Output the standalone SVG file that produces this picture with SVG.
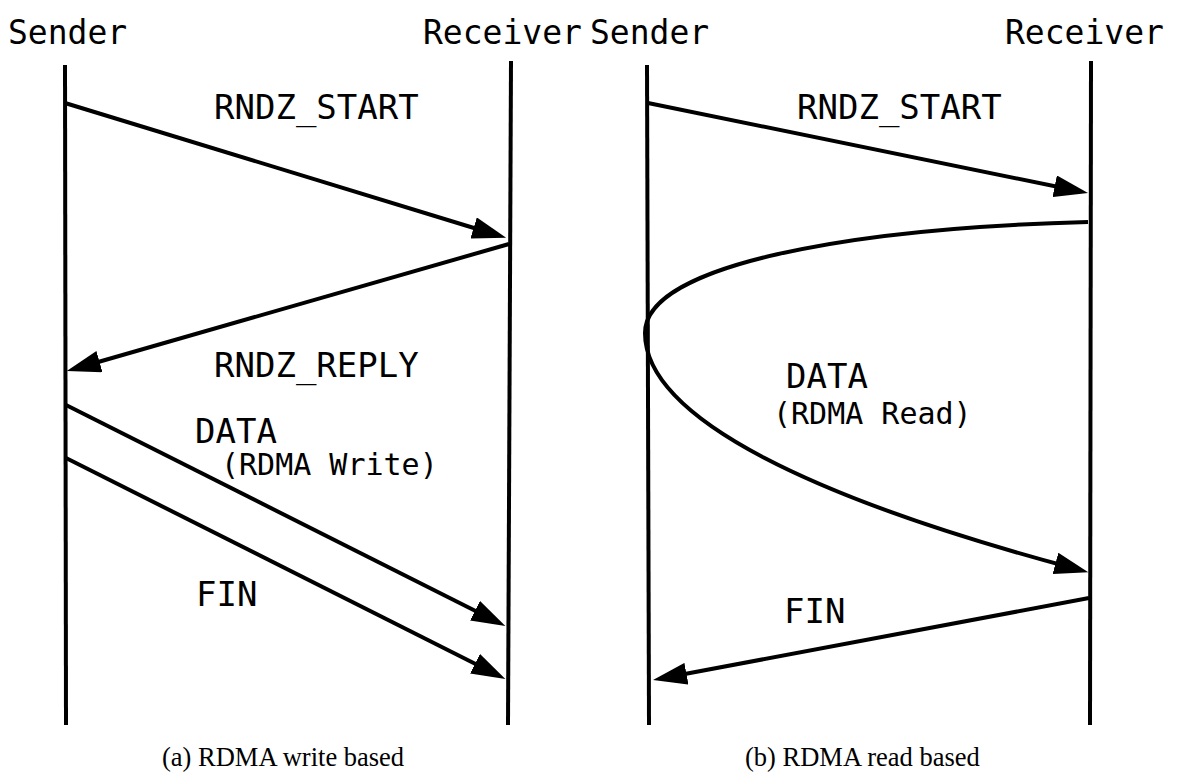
<svg xmlns="http://www.w3.org/2000/svg" width="1184" height="780" viewBox="0 0 1184 780">
  <style>
    .mono { font-family: "DejaVu Sans Mono", "Liberation Mono", monospace; fill: #000; }
    .head { font-size: 33px; }
    .lbl { font-size: 34px; }
    .sub { font-size: 30px; }
    .cap { font-family: "Liberation Serif", "DejaVu Serif", serif; font-size: 26.5px; fill: #000; }
    .life { stroke: #000; stroke-width: 4; fill: none; }
    .msg { stroke: #000; stroke-width: 4; fill: none; marker-end: url(#head); }
  </style>
  <defs>
    <marker id="head" viewBox="0 0 34 22" markerWidth="34" markerHeight="22" markerUnits="userSpaceOnUse" refX="14" refY="11" orient="auto">
      <path d="M0,0 L34,11 L0,22 z" fill="#000"/>
    </marker>
  </defs>
  <rect width="1184" height="780" fill="#fff"/>

  <!-- (a) write-based rendezvous -->
  <g id="a-sender">
    <text class="mono head" x="8" y="44">Sender</text>
    <line class="life" x1="65" y1="65" x2="66" y2="725"/>
  </g>
  <g id="a-receiver">
    <text class="mono head" x="423" y="44">Receiver</text>
    <line class="life" x1="511" y1="61" x2="508" y2="725"/>
  </g>
  <g id="a-connectors">
    <line class="msg" x1="65" y1="103" x2="487" y2="232"/>
    <line class="msg" x1="509" y1="244" x2="86" y2="365.5"/>
    <line class="msg" x1="66" y1="405" x2="487.5" y2="617"/>
    <line class="msg" x1="66" y1="458" x2="487.5" y2="670"/>
  </g>
  <g id="a-labels">
    <text class="mono lbl" x="214" y="119">RNDZ_START</text>
    <text class="mono lbl" x="214" y="377">RNDZ_REPLY</text>
    <text class="mono lbl" x="195" y="443">DATA</text>
    <text class="mono sub" x="221" y="475">(RDMA Write)</text>
    <text class="mono lbl" x="196" y="606">FIN</text>
  </g>
  <text class="cap" x="162" y="766">(a) RDMA write based</text>

  <!-- (b) read-based rendezvous -->
  <g id="b-sender">
    <text class="mono head" x="590" y="44">Sender</text>
    <line class="life" x1="647" y1="65" x2="649" y2="725"/>
  </g>
  <g id="b-receiver">
    <text class="mono head" x="1005" y="44">Receiver</text>
    <line class="life" x1="1091" y1="61" x2="1090" y2="725"/>
  </g>
  <g id="b-connectors">
    <line class="msg" x1="648" y1="103" x2="1068.4" y2="189"/>
    <path class="msg" d="M1088,222 C850,228 645,265 645,333 C645,420 820,500 1069,567"/>
    <line class="msg" x1="1089" y1="598" x2="672.7" y2="676.3"/>
  </g>
  <g id="b-labels">
    <text class="mono lbl" x="797" y="119">RNDZ_START</text>
    <text class="mono lbl" x="786" y="388">DATA</text>
    <text class="mono sub" x="773" y="424">(RDMA Read)</text>
    <text class="mono lbl" x="784" y="623">FIN</text>
  </g>
  <text class="cap" x="745" y="766">(b) RDMA read based</text>
</svg>
